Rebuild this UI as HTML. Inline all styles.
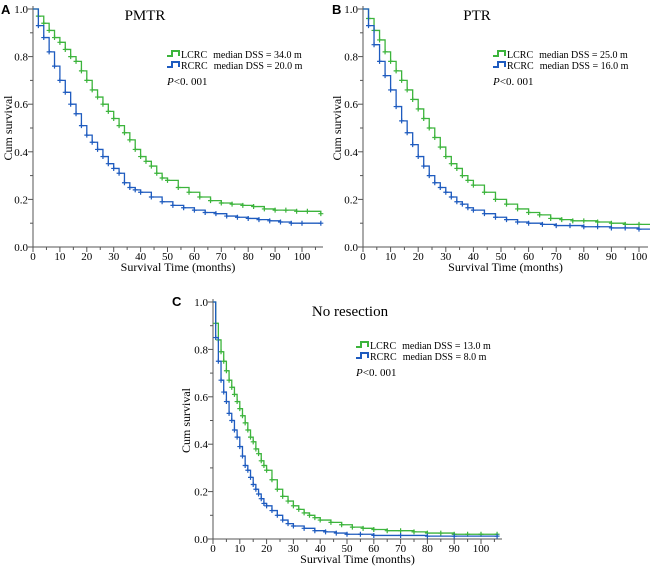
<!DOCTYPE html>
<html><head><meta charset="utf-8"><style>
body{margin:0;background:#fff}
svg{display:block;font-family:"Liberation Serif",serif}
</style></head><body>
<svg id="c" width="650" height="566" viewBox="0 0 650 566"></svg>
<script>
const ticksX=[0,10,20,30,40,50,60,70,80,90,100];
const ticksY=[0,0.2,0.4,0.6,0.8,1.0];
const timesA_L=[0,2,4,6,8,10,12,14,16,18,20,22,24,26,28,30,32,34,36,38,40,42,44,46,48,50,54,58,62,66,70,74,78,82,86,90,94,98,102,107];
const survA_L=[1,.97,.94,.91,.88,.86,.83,.80,.78,.74,.70,.66,.63,.60,.57,.54,.51,.48,.45,.41,.38,.36,.34,.31,.29,.28,.25,.23,.21,.195,.185,.18,.175,.17,.16,.155,.155,.15,.15,.14];
const timesA_R=[0,2,4,6,8,10,12,14,16,18,20,22,24,26,28,30,32,34,36,38,40,44,48,52,56,60,64,68,72,76,80,84,88,92,96,100,107];
const survA_R=[1,.93,.88,.82,.76,.70,.65,.60,.56,.51,.47,.44,.41,.38,.35,.33,.31,.27,.25,.24,.23,.21,.19,.175,.165,.155,.145,.14,.13,.125,.12,.115,.11,.105,.10,.10,.10];
const timesB_L=[0,2,4,6,8,10,12,14,16,18,20,22,24,26,28,30,32,34,36,38,40,44,48,52,56,60,64,68,72,76,80,85,90,95,100,105];
const survB_L=[1,.96,.91,.87,.82,.78,.74,.70,.66,.62,.58,.54,.50,.46,.42,.38,.35,.33,.30,.28,.26,.23,.20,.18,.16,.145,.135,.12,.115,.11,.11,.105,.10,.095,.095,.095];
const timesB_R=[0,2,4,6,8,10,12,14,16,18,20,22,24,26,28,30,32,34,36,38,40,44,48,52,56,60,65,70,75,80,85,90,95,100,105];
const survB_R=[1,.93,.85,.78,.72,.66,.59,.53,.48,.43,.38,.34,.30,.27,.25,.23,.21,.19,.18,.165,.155,.14,.125,.115,.105,.10,.095,.09,.09,.085,.085,.08,.08,.075,.075];
const timesC_L=[0,1,2,3,4,5,6,7,8,9,10,11,12,13,14,15,16,17,18,19,20,22,24,26,28,30,32,34,36,38,40,44,48,52,56,60,65,70,75,80,85,90,95,100,106];
const survC_L=[1,.91,.84,.79,.75,.71,.67,.64,.61,.58,.55,.52,.49,.46,.43,.41,.38,.36,.33,.31,.29,.25,.21,.18,.16,.14,.125,.11,.10,.09,.08,.07,.06,.05,.045,.04,.035,.035,.03,.025,.025,.02,.02,.02,.02];
const timesC_R=[0,1,2,3,4,5,6,7,8,9,10,11,12,13,14,15,16,17,18,19,20,22,24,26,28,30,34,38,42,46,50,55,60,70,80,90,106];
const survC_R=[1,.85,.75,.67,.62,.58,.53,.50,.46,.43,.39,.35,.31,.29,.26,.23,.21,.19,.17,.15,.14,.12,.10,.08,.065,.055,.045,.035,.03,.025,.02,.02,.015,.015,.012,.012,.012];

const svg=document.getElementById('c');
const NS='http://www.w3.org/2000/svg';
function mk(t,a,p){const e=document.createElementNS(NS,t);for(const k in a)e.setAttribute(k,a[k]);(p||svg).appendChild(e);return e;}
const G='#3cb43c',B='#1e5bbf';
const panels=[
 {id:'a',letter:'A',lx:1,ly:14,x0:33,y0:247,y1:9,ppm:2.69,xend:323,title:'PMTR',tx:145,ty:20,lgx:167,lgy:55,ylx:12,L:[timesA_L,survA_L],R:[timesA_R,survA_R],mL:'34.0',mR:'20.0'},
 {id:'b',letter:'B',lx:332,ly:14,x0:363,y0:247,y1:9,ppm:2.76,xend:648,title:'PTR',tx:477,ty:20,lgx:493,lgy:55,ylx:341,L:[timesB_L,survB_L],R:[timesB_R,survB_R],mL:'25.0',mR:'16.0'},
 {id:'c',letter:'C',lx:172,ly:306,x0:213,y0:539,y1:302,ppm:2.68,xend:502,title:'No resection',tx:350,ty:316,lgx:356,lgy:346,ylx:190,L:[timesC_L,survC_L],R:[timesC_R,survC_R],mL:'13.0',mR:'8.0'}
];
panels.forEach(p=>{
 const g=mk('g',{});
 
 
 const X=t=>p.x0+t*p.ppm, Y=s=>p.y0-s*(p.y0-p.y1);
 const t1=mk('text',{x:p.lx,y:p.ly,'font-family':'Liberation Sans,sans-serif','font-weight':'bold','font-size':13},g);t1.textContent=p.letter;
 
 const ax=mk('path',{d:`M${p.x0},${p.y1-3}V${p.y0}H${p.xend}`,stroke:'#555',fill:'none','stroke-width':1},g);
 
 for(let i=1;i<10;i+=2){mk('line',{x1:p.x0-3,x2:p.x0,y1:Y(i/10),y2:Y(i/10),stroke:'#555'},g);}
 for(let i=5;i<=105;i+=10){if(X(i)<p.xend)mk('line',{x1:X(i),x2:X(i),y1:p.y0,y2:p.y0+3,stroke:'#555'},g);}
 ticksY.forEach(v=>{mk('line',{x1:p.x0-5,x2:p.x0,y1:Y(v),y2:Y(v),stroke:'#555'},g);
  const t=mk('text',{x:p.x0-5,y:Y(v)+4,'text-anchor':'end','font-size':11},g);t.textContent=v.toFixed(1);
  });
 ticksX.forEach(v=>{mk('line',{x1:X(v),x2:X(v),y1:p.y0,y2:p.y0+5,stroke:'#555'},g);
  const t=mk('text',{x:X(v),y:p.y0+13,'text-anchor':'middle','font-size':11},g);t.textContent=v;
  });
 const xt=mk('text',{x:(p.x0+p.xend)/2,y:p.y0+24,'text-anchor':'middle','font-size':12},g);xt.textContent='Survival Time (months)';
 
 const ym=(p.y0+p.y1)/2;
 const yt=mk('text',{x:p.ylx,y:ym,'text-anchor':'middle','font-size':12,transform:`rotate(-90 ${p.ylx} ${ym})`},g);yt.textContent='Cum survival';
 
 const tt=mk('text',{x:p.tx,y:p.ty,'text-anchor':'middle','font-size':15},g);tt.textContent=p.title;
 
 [[p.L,G,'lcrc'],[p.R,B,'rcrc']].forEach(([d,col,nm])=>{
  const [ts,ss]=d;let path=`M${X(ts[0])},${Y(ss[0])}`;
  for(let i=1;i<ts.length;i++){path+=`H${X(ts[i])}V${Y(ss[i])}`;}
  const ln=mk('path',{d:path,stroke:col,fill:'none','stroke-width':1.3},g);
  
  for(let i=1;i<ts.length;i++){const cx=X(ts[i]),cy=Y(ss[i]);
   const m=mk('path',{d:`M${cx-2.5},${cy}H${cx+2.5}M${cx},${cy-2.5}V${cy+2.5}`,stroke:col,'stroke-width':1.2},g);
   }
 });
 [[G,'LCRC',p.mL,0],[B,'RCRC',p.mR,11]].forEach(([col,lab,med,dy])=>{
  const yy=p.lgy+dy;
  const s=mk('path',{d:`M${p.lgx},${yy+1}H${p.lgx+5}V${yy-4}H${p.lgx+12}V${yy+1}`,stroke:col,fill:'none','stroke-width':2},g);
  
  const t=mk('text',{x:p.lgx+14,y:yy+3,'font-size':10},g);
  t.innerHTML=lab+'<tspan dx="6">median DSS = '+med+' m</tspan>';
  
 });
 const pv=mk('text',{x:p.lgx,y:p.lgy+30,'font-size':11},g);pv.innerHTML='<tspan font-style="italic">P</tspan>&lt;0. 001';
 
});
</script>
</body></html>
